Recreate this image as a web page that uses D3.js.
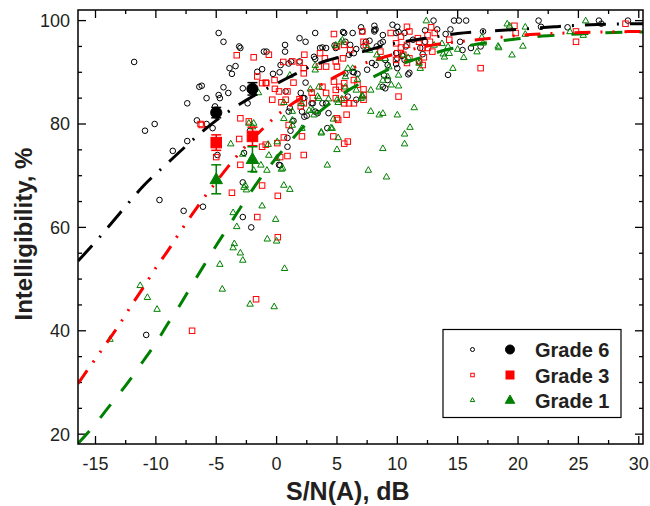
<!DOCTYPE html>
<html>
<head>
<meta charset="utf-8">
<style>
  body { margin: 0; background: #fff; }
  svg { display: block; }
</style>
</head>
<body>
<script src="https://d3js.org/d3.v7.min.js"></script>
<script>

// scatter points, [S/N dB, intelligibility %]
var grade6Points = [
  [-11.8,92.0],[-4.8,97.6],[-4.4,95.9],[-6.4,87.2],[-6.2,87.4],[-7.4,84.0],[-5.8,85.0],[-4.7,85.0],
  [-6.6,80.7],[-5.8,80.0],[-5.3,79.2],[-10.9,78.7],[-10.1,80.0],[-8.6,74.8],[-7.4,76.7],[-5.1,83.4],
  [-9.7,65.3],[-7.7,63.2],[-6.1,64.0],[-2.8,68.7],[-2.8,62.0],[-2.1,60.0],[0.2,72.1],[-10.8,39.2],
  [-3.1,95.0],[-3.0,94.7],[-1.05,94.0],[-0.83,94.0],[0.7,95.3],[0.7,94.0],[1.9,96.6],[2.4,95.9],
  [3.2,97.6],[-3.9,90.8],[-3.7,89.7],[-3.4,91.2],[-1.6,90.1],[-1.2,90.6],[-0.3,89.7],[0.25,90.0],
  [1.2,92.1],[1.9,92.1],[-4.4,87.1],[-2.8,86.9],[-4.0,86.0],[0.75,86.3],[2.4,88.0],[-2.4,84.0],
  [2.1,82.4],[2.3,81.4],[2.5,81.6],[1.1,83.1],[1.0,82.4],[4.2,79.2],[0.9,77.3],[0.9,75.6],
  [-2.7,74.4],[0.3,72.0],[-4.9,74.0],[3.6,94.7],[4.1,94.7],[5.6,97.6],[6.3,97.6],[7.0,98.7],
  [8.1,99.0],[8.1,97.9],[8.2,98.3],[8.8,97.2],[8.8,95.9],[8.6,95.6],[9.6,99.2],[10.0,98.8],
  [9.9,97.6],[10.6,97.6],[6.0,93.4],[6.4,93.7],[6.6,94.5],[7.2,95.0],[6.3,90.1],[6.7,89.7],
  [8.2,91.4],[9.0,92.4],[9.2,91.4],[9.9,91.6],[10.0,90.8],[11.0,89.9],[11.8,92.1],[9.0,86.9],
  [5.9,85.3],[6.6,84.7],[3.4,82.1],[2.3,85.0],[12.3,98.1],[13.0,100],[13.3,98.3],[12.3,95.9],
  [14.0,97.4],[14.4,98.3],[14.7,100],[15.1,100],[15.7,100],[15.2,95.9],[15.4,94.3],[16.1,94.7],
  [16.9,95.0],[14.2,89.5],[17.1,97.9],[21.7,100],[21.9,98.8],[24.1,98.7],[26.7,100],[26.9,99.4],
  [29.1,100],[1.0,91.7],[0.33,91.4],[3.1,93.0],[3.2,92.6],[-4.8,85.6],[2.0,86.0],[2.9,84.0],
  [5.5,97.8],[7.1,97.9],[8.1,98.2],[10.1,97.8],[3.8,94.8],[4.8,95.2],[4.9,94.7],[5.7,95.9],
  [6.1,95.3],[7.4,95.9],[7.7,96.1],[8.3,95.0],[10.4,93.2],[10.7,95.0],[11.3,96.3],[9.9,93.7],
  [10.0,92.7],[10.6,92.4],[11.9,94.7],[6.4,90.0],[5.7,89.8],[8.9,89.4],[9.2,88.5],[10.9,89.6],
  [8.8,87.2],[7.5,90.5],[7.9,91.8],[12.1,93.5],[2.2,85.0],[3.0,84.0],[3.2,82.4],[3.8,84.0],
  [4.1,84.0],[4.3,82.1],[1.4,80.6],[1.15,78.7],[-2.2,78.7]
];

var grade3Points = [
  [-6.3,80.0],[-5.0,73.6],[-3.0,72.1],[-1.2,68.1],[-3.7,66.7],[-1.6,62.0],[0.1,66.1],[0.1,58.1],
  [-1.7,46.1],[-7.0,40.0],[4.75,97.4],[7.1,97.9],[10.8,98.8],[5.6,95.3],[7.2,95.9],[7.4,95.3],
  [9.9,95.6],[8.6,94.0],[10.3,94.8],[10.8,95.3],[-3.3,93.3],[-1.9,92.9],[-0.64,93.4],[0.55,92.0],
  [1.9,91.9],[2.3,93.4],[3.6,93.7],[5.0,91.1],[3.5,91.1],[-0.9,88.0],[-0.17,88.5],[1.4,88.0],
  [2.25,89.8],[-0.36,84.7],[1.9,84.8],[2.25,84.0],[5.6,87.9],[6.4,88.5],[6.7,87.6],[4.9,86.6],
  [5.6,86.9],[7.2,86.7],[7.2,84.7],[10.1,85.3],[5.0,81.1],[5.8,81.8],[4.7,77.6],[5.6,76.2],
  [5.9,76.6],[2.1,77.6],[2.25,74.0],[1.0,79.8],[-3.0,81.1],[-2.3,80.5],[0.06,76.3],[0.9,73.8],
  [5.0,95.0],[6.1,94.3],[9.45,97.6],[10.3,96.9],[11.0,97.9],[11.7,96.6],[11.8,95.9],[12.1,94.7],
  [4.0,92.7],[4.9,92.1],[5.5,92.7],[4.1,91.1],[10.0,93.7],[10.5,93.4],[9.9,92.4],[10.8,91.8],
  [11.0,92.7],[11.8,92.1],[4.75,88.2],[5.2,87.2],[3.8,87.2],[4.1,86.0],[7.2,85.6],[5.6,84.7],
  [4.9,85.0],[2.0,83.4],[3.0,85.0],[5.1,80.8],[5.6,84.0],[6.0,84.0],[6.4,84.0],[0.6,77.4],
  [12.8,98.7],[13.1,97.6],[12.5,97.2],[12.7,95.9],[12.9,94.0],[12.5,94.7],[12.2,92.9],[12.1,91.4],
  [14.3,96.3],[16.9,90.8],[19.7,99.0],[19.8,97.6],[24.8,97.9],[24.8,95.9],[28.9,99.4],[1.3,92.1],
  [-1.6,89.2],[-0.85,87.9],[-0.14,86.8],[2.25,90.8],[0.4,84.2],[0.75,84.7],[2.9,86.1],[-3.1,77.1],
  [-6.2,79.8],[-1.2,87.9],[-1.2,75.6],[-0.9,76.0],[0.2,86.3],[0.9,86.3],[0.3,73.6]
];

var grade1Points = [
  [-13.8,38.4],[-9.9,44.2],[-2.2,45.2],[-0.2,44.7],[-11.3,48.8],[-10.7,46.5],[-4.7,52.9],[-4.5,48.1],
  [-3.6,62.9],[-3.3,60.2],[-3.5,56.9],[-3.6,56.1],[-3.0,55.1],[-2.8,53.7],[-2.6,68.2],[-2.5,67.3],
  [-1.2,64.2],[-0.77,57.8],[-0.08,61.6],[0,57.4],[-1.3,72.1],[-1.9,71.1],[-0.7,76.1],[0.05,76.6],
  [0,73.4],[0.4,71.3],[3.7,78.3],[5.1,77.4],[5.0,75.1],[4.2,72.1],[8.8,75.3],[10.6,76.2],
  [10.6,78.1],[7.6,71.1],[9.1,69.8],[0.6,68.2],[1.1,67.4],[0.66,52.1],[7.1,85.3],[7.8,82.5],
  [8.5,81.8],[8.8,82.1],[10.0,81.8],[11.4,83.2],[11.05,79.4],[4.5,79.3],[4.7,81.0],[5.1,84.2],
  [5.4,84.9],[0.6,84.2],[1.3,82.5],[0.6,81.1],[2.7,82.7],[3.5,85.0],[4.3,84.9],[2.1,79.2],
  [3.7,78.5],[4.6,79.2],[0.5,71.5],[5.45,96.3],[7.5,94.7],[7.7,94.3],[5.9,90.8],[6.3,90.8],
  [5.7,89.2],[8.3,93.4],[8.5,92.7],[9.3,91.1],[9.0,92.7],[10.5,93.4],[10.9,92.9],[10.1,89.5],
  [9.5,87.6],[10.1,87.4],[8.5,87.2],[5.7,87.2],[6.6,86.6],[7.1,85.6],[7.0,85.0],[5.0,84.7],
  [11.9,90.8],[11.8,91.8],[1.1,89.5],[3.2,90.5],[3.2,91.4],[2.8,86.8],[3.5,87.2],[3.4,85.4],
  [2.07,84.0],[-1.5,86.1],[5.3,95.9],[4.9,95.3],[6.7,88.7],[8.8,88.5],[9.2,89.2],[7.8,86.6],
  [-0.64,74.0],[-2.8,74.2],[-3.8,76.2],[-2.0,79.5],[1.3,80.8],[1.3,79.8],[3.0,82.7],[3.1,81.8],
  [12.4,100],[19.1,99.4],[19.3,99.0],[20.6,98.8],[20.6,97.4],[25.6,100],[13.05,95.3],[13.7,95.6],
  [14.2,95.0],[14.3,93.7],[13.9,93.0],[13.8,93.6],[15.0,94.5],[15.5,92.9],[16.6,94.0],[17.1,95.7],
  [17.0,96.8],[14.6,90.8],[18.35,95.1],[18.4,94.8],[19.5,93.4],[20.4,95.1],[24.3,97.9],[25.4,97.2],
  [-2.3,80.2],[-1.9,80.2],[-0.8,71.1],[-2.7,67.8]
];

// fitted curves, points
var grade6Fit = [[-16.45,53.5],[-15,57.2],[-13,62.7],[-11,68.1],[-9,72.5],[-7,76.8],[-5,80.7],[-3,83.9],
  [-1,86.6],[1,89.0],[3,91.3],[5,92.8],[7,93.9],[9,95.2],[11,96.1],[13,96.8],[15,97.5],[17,97.9],
  [20,98.3],[23,98.8],[26,99.2],[30.4,99.4]];
var grade3Fit = [[-16.45,29.8],[-15,34.6],[-14,37.9],[-13,41.3],[-12,45.0],[-11,48.5],[-10,52.2],[-9,55.5],
  [-8,59.1],[-7,62.5],[-6,65.8],[-5,68.8],[-4,71.8],[-3,74.6],[-2,77.1],[-1,79.4],[0,81.6],[1,83.4],
  [2,85.0],[3,86.6],[4,88.0],[5,89.3],[7,91.5],[9,93.0],[11,94.3],[13,95.3],[15,95.9],[17,96.4],
  [19,96.9],[21,97.3],[24,97.6],[27,97.8],[30.4,97.9]];
var grade1Fit = [[-16.45,18.2],[-15,22.0],[-14,25.0],[-13,27.9],[-12,31.0],[-11,34.3],[-10,37.6],[-9,41.4],
  [-8,45.0],[-7,48.9],[-6,52.7],[-5,56.5],[-4,60.1],[-3,63.8],[-2,67.3],[-1,70.6],[0,73.5],[1,76.3],
  [2,78.9],[3,81.2],[4,83.2],[5,85.0],[6,86.6],[8,89.1],[10,91.3],[12,92.9],[14,94.3],[16,95.2],
  [18,95.9],[20,96.5],[22,97.0],[25,97.4],[28,97.7],[30.4,97.8]];

// mean values with error bars
var meanSN = [-5, -2];
var grade6Mean = [82.2, 86.8], grade6Err = [1.0, 1.2];
var grade3Mean = [76.4, 77.6], grade3Err = [1.5, 1.8];
var grade1Mean = [69.3, 73.2], grade1Err = [2.8, 2.4];

var xTicks = [-15, -10, -5, 0, 5, 10, 15, 20, 25, 30];
var yTicks = [20, 40, 60, 80, 100];
var legendLabels = ['Grade 6', 'Grade 3', 'Grade 1'];

var width = 650, height = 506;
var margin = {left: 78, right: 7, top: 10, bottom: 62};

var black = '#000', red = '#ff0000', green = '#008000';
var labelFont = '"Liberation Sans", Arial, Helvetica, sans-serif';

var svg = d3.select('body').append('svg')
    .attr('width', width)
    .attr('height', height);

var x = d3.scaleLinear()
    .domain([-16.45, 30.35])
    .range([margin.left, width - margin.right]);

var y = d3.scaleLinear()
    .domain([18.1, 102.05])
    .range([height - margin.bottom, margin.top]);

svg.append('clipPath').attr('id', 'plot-clip')
  .append('rect')
    .attr('x', x.range()[0]).attr('y', y.range()[1])
    .attr('width', x.range()[1] - x.range()[0])
    .attr('height', y.range()[0] - y.range()[1]);

// ---- axes with inward ticks on all four sides
var xMinor = d3.range(-15, 30.1, 2.5);
var yMinor = d3.range(20, 101, 5);

function tickLen(v, step) { return Math.abs(v / step - Math.round(v / step)) < 1e-6 ? 8 : 4; }

var ticks = svg.append('g').attr('stroke', black).attr('stroke-width', 1.3);
xMinor.forEach(function(v) {
  var L = tickLen(v, 5);
  ticks.append('line').attr('x1', x(v)).attr('x2', x(v)).attr('y1', y.range()[0]).attr('y2', y.range()[0] - L);
  ticks.append('line').attr('x1', x(v)).attr('x2', x(v)).attr('y1', y.range()[1]).attr('y2', y.range()[1] + L);
});
yMinor.forEach(function(v) {
  var L = tickLen(v, 20);
  ticks.append('line').attr('y1', y(v)).attr('y2', y(v)).attr('x1', x.range()[0]).attr('x2', x.range()[0] + L);
  ticks.append('line').attr('y1', y(v)).attr('y2', y(v)).attr('x1', x.range()[1]).attr('x2', x.range()[1] - L);
});

svg.append('g').selectAll('text').data(xTicks).join('text')
    .attr('x', function(d) { return x(d); })
    .attr('y', 470)
    .attr('text-anchor', 'middle')
    .attr('font-family', labelFont)
    .attr('font-size', 18)
    .attr('fill', '#231f20')
    .text(function(d) { return d; });

svg.append('g').selectAll('text').data(yTicks).join('text')
    .attr('x', 70)
    .attr('y', function(d) { return y(d) + 6.5; })
    .attr('text-anchor', 'end')
    .attr('font-family', labelFont)
    .attr('font-size', 18)
    .attr('fill', '#231f20')
    .text(function(d) { return d; });

svg.append('text')
    .attr('x', 286)
    .attr('y', 500)
    .attr('text-anchor', 'start')
    .attr('font-family', labelFont)
    .attr('font-weight', 'bold')
    .attr('font-size', 25)
    .attr('fill', '#231f20')
    .text('S/N(A), dB');

svg.append('text')
    .attr('transform', 'translate(32,234) rotate(-90)')
    .attr('text-anchor', 'middle')
    .attr('font-family', labelFont)
    .attr('font-weight', 'bold')
    .attr('font-size', 24)
    .attr('fill', '#231f20')
    .text('Intelligibility, %');

// ---- marker shapes
function circle(g, cx, cy, r, color, filled) {
  return g.append('circle').attr('cx', cx).attr('cy', cy).attr('r', r)
    .attr('fill', filled ? color : 'none').attr('stroke', color).attr('stroke-width', 1);
}
function square(g, cx, cy, s, color, filled) {
  return g.append('rect').attr('x', cx - s / 2).attr('y', cy - s / 2).attr('width', s).attr('height', s)
    .attr('fill', filled ? color : 'none').attr('stroke', color).attr('stroke-width', 1);
}
function triangle(g, cx, cy, s, color, filled) {
  var h = s * 0.87;
  var pts = [[cx, cy - h * 0.6], [cx + s / 2, cy + h * 0.4], [cx - s / 2, cy + h * 0.4]];
  return g.append('path').attr('d', 'M' + pts.join('L') + 'Z')
    .attr('fill', filled ? color : 'none').attr('stroke', color).attr('stroke-width', 1);
}

var plot = svg.append('g').attr('clip-path', 'url(#plot-clip)');

var scatter = plot.append('g');
grade6Points.forEach(function(d) { circle(scatter, x(d[0]), y(d[1]), 2.8, black, false); });
grade3Points.forEach(function(d) { square(scatter, x(d[0]), y(d[1]), 5.5, red, false); });
grade1Points.forEach(function(d) { triangle(scatter, x(d[0]), y(d[1]), 6.5, green, false); });

// ---- fitted curves
var line = d3.line()
    .x(function(d) { return x(d[0]); })
    .y(function(d) { return y(d[1]); })
    .curve(d3.curveMonotoneX);

var fits = [
  {data: grade1Fit, color: green, dash: '17,17'},
  {data: grade3Fit, color: red, dash: '16,10,2,10,2,10'},
  {data: grade6Fit, color: black, dash: '21,11,2,11'}
];
fits.forEach(function(f) {
  plot.append('path')
      .attr('d', line(f.data))
      .attr('fill', 'none')
      .attr('stroke', f.color)
      .attr('stroke-width', 3)
      .attr('stroke-dasharray', f.dash);
});

// ---- means with error bars
var means = [
  {vals: grade6Mean, err: grade6Err, color: black, shape: 'c'},
  {vals: grade3Mean, err: grade3Err, color: red, shape: 's'},
  {vals: grade1Mean, err: grade1Err, color: green, shape: 't'}
];
var meanG = svg.append('g');
means.forEach(function(m) {
  m.vals.forEach(function(v, i) {
    var cx = x(meanSN[i]), cy = y(v),
        top = y(v + m.err[i]), bot = y(v - m.err[i]);
    var eb = meanG.append('g').attr('stroke', m.color).attr('stroke-width', 1.5);
    eb.append('line').attr('x1', cx).attr('x2', cx).attr('y1', top).attr('y2', bot);
    eb.append('line').attr('x1', cx - 5).attr('x2', cx + 5).attr('y1', top).attr('y2', top);
    eb.append('line').attr('x1', cx - 5).attr('x2', cx + 5).attr('y1', bot).attr('y2', bot);
    if (m.shape === 'c') circle(meanG, cx, cy, 5.6, m.color, true);
    if (m.shape === 's') square(meanG, cx, cy, 10.5, m.color, true);
    if (m.shape === 't') triangle(meanG, cx, cy, 12.5, m.color, true);
  });
});

// ---- frame
svg.append('rect')
    .attr('x', x.range()[0]).attr('y', y.range()[1])
    .attr('width', x.range()[1] - x.range()[0])
    .attr('height', y.range()[0] - y.range()[1])
    .attr('fill', 'none')
    .attr('stroke', black)
    .attr('stroke-width', 1.5);

// ---- legend
var legend = svg.append('g');
legend.append('rect')
    .attr('x', 443).attr('y', 329.5).attr('width', 178).attr('height', 88)
    .attr('fill', '#fff').attr('stroke', black).attr('stroke-width', 1.2);

var rowY = [349.5, 375, 400];
var legendColors = [black, red, green];
legendLabels.forEach(function(lab, i) {
  var cy = rowY[i], c = legendColors[i];
  if (i === 0) { circle(legend, 472.5, cy, 2, c, false); circle(legend, 510, cy, 4.5, c, true); }
  if (i === 1) { square(legend, 472.5, cy, 3.5, c, false); square(legend, 510, cy, 8, c, true); }
  if (i === 2) { triangle(legend, 472.5, cy, 4.5, c, false); triangle(legend, 510, cy, 9.5, c, true); }
  legend.append('text')
      .attr('x', 535).attr('y', cy + 7.5)
      .attr('font-family', labelFont)
      .attr('font-weight', 'bold')
      .attr('font-size', 20)
      .attr('fill', '#231f20')
      .text(lab);
});

</script>
</body>
</html>
